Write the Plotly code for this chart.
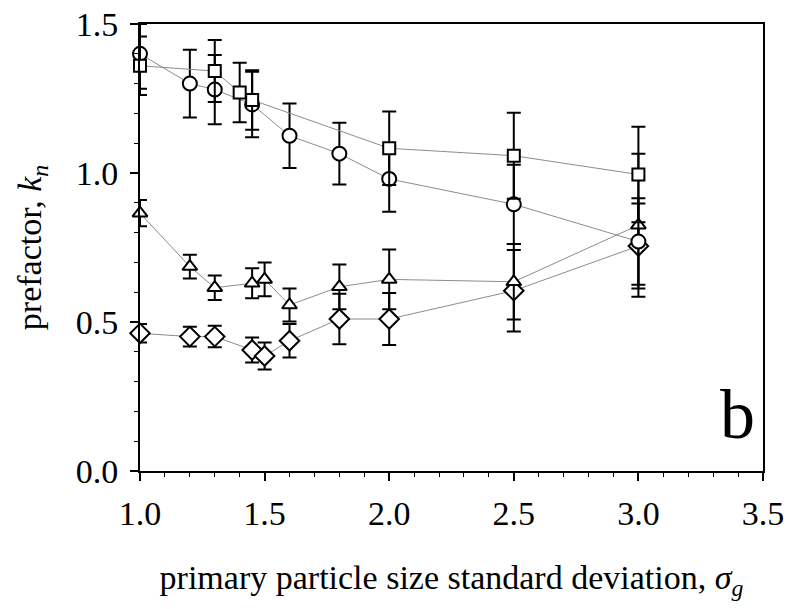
import plotly.graph_objects as go

# ---- data ----
circle_x = [1.0, 1.2, 1.3, 1.45, 1.6, 1.8, 2.0, 2.5, 3.0]
circle_y = [1.40, 1.30, 1.28, 1.23, 1.125, 1.065, 0.98, 0.895, 0.77]
circle_err_plus = [0.10, 0.114, 0.116, 0.11, 0.108, 0.104, 0.11, 0.133, 0.145]
circle_err_minus = [0.117, 0.114, 0.116, 0.11, 0.108, 0.104, 0.11, 0.133, 0.145]

square_x = [1.0, 1.3, 1.4, 1.45, 2.0, 2.5, 3.0]
square_y = [1.36, 1.342, 1.27, 1.245, 1.083, 1.058, 0.995]
square_err = [0.098, 0.104, 0.10, 0.10, 0.123, 0.144, 0.16]

triangle_x = [1.0, 1.2, 1.3, 1.45, 1.5, 1.6, 1.8, 2.0, 2.5, 3.0]
triangle_y = [0.865, 0.686, 0.615, 0.630, 0.643, 0.557, 0.618, 0.643, 0.635, 0.825]
triangle_err = [0.044, 0.04, 0.041, 0.05, 0.057, 0.055, 0.075, 0.10, 0.127, 0.24]

diamond_x = [1.0, 1.2, 1.3, 1.45, 1.5, 1.6, 1.8, 2.0, 2.5, 3.0]
diamond_y = [0.462, 0.451, 0.451, 0.406, 0.386, 0.437, 0.510, 0.510, 0.605, 0.755]
diamond_err = [0.031, 0.033, 0.036, 0.042, 0.045, 0.056, 0.085, 0.087, 0.137, 0.143]

x_ticks = [1.0, 1.5, 2.0, 2.5, 3.0, 3.5]
y_ticks = [0.0, 0.5, 1.0, 1.5]

FONT = "Liberation Serif, Times New Roman, serif"

fig = go.Figure()


def add_series(x, y, err_plus, err_minus, symbol, size):
    fig.add_trace(go.Scatter(
        x=x, y=y, mode="lines+markers",
        line=dict(color="#8c8c8c", width=1),
        marker=dict(symbol=symbol, size=size, color="white",
                    line=dict(color="black", width=2)),
        error_y=dict(type="data", symmetric=False, array=err_plus,
                     arrayminus=err_minus, color="black",
                     thickness=2, width=7),
        cliponaxis=False, showlegend=False,
    ))


add_series(diamond_x, diamond_y, diamond_err, diamond_err, "diamond", 15)
add_series(triangle_x, triangle_y, triangle_err, triangle_err, "triangle-up", 13)
add_series(circle_x, circle_y, circle_err_plus, circle_err_minus, "circle", 14)
add_series(square_x, square_y, square_err, square_err, "square", 12)

fig.update_xaxes(
    range=[1.0, 3.5], tickvals=x_ticks, tickformat=".1f", automargin=False,
    ticks="outside", ticklen=8, tickwidth=1.5, tickcolor="black",
    ticklabelstandoff=3, ticklabeloverflow="allow",
    minor=dict(dtick=0.1, ticks="outside", ticklen=4, tickcolor="black", tickwidth=1),
    showline=True, linecolor="black", linewidth=2, mirror=True,
    showgrid=False, zeroline=False,
    tickfont=dict(family=FONT, size=34, color="black"),
    title=dict(text="primary particle size standard deviation, <i>σ</i><sub><i>g</i></sub>",
               font=dict(family=FONT, size=34, color="black"), standoff=34),
)
fig.update_yaxes(
    range=[0.0, 1.5], tickvals=y_ticks, tickformat=".1f", automargin=False,
    ticks="outside", ticklen=8, tickwidth=1.5, tickcolor="black",
    ticklabelstandoff=5, ticklabeloverflow="allow",
    minor=dict(dtick=0.1, ticks="outside", ticklen=4, tickcolor="black", tickwidth=1),
    showline=True, linecolor="black", linewidth=2, mirror=True,
    showgrid=False, zeroline=False,
    tickfont=dict(family=FONT, size=34, color="black"),
    title=dict(text="prefactor, <i>k</i><sub><i>n</i></sub>",
               font=dict(family=FONT, size=34, color="black"), standoff=24),
)

fig.add_annotation(
    x=0.99, y=0.036, xref="paper", yref="paper", xanchor="right", yanchor="bottom",
    text="b", showarrow=False,
    font=dict(family=FONT, size=70, color="black"),
)

fig.update_layout(
    width=790, height=609,
    margin=dict(l=140, r=27, t=24, b=138),
    paper_bgcolor="white", plot_bgcolor="white",
)

fig.write_html("out.html", config={"displayModeBar": False},
               post_script="document.body.style.margin='0';")
